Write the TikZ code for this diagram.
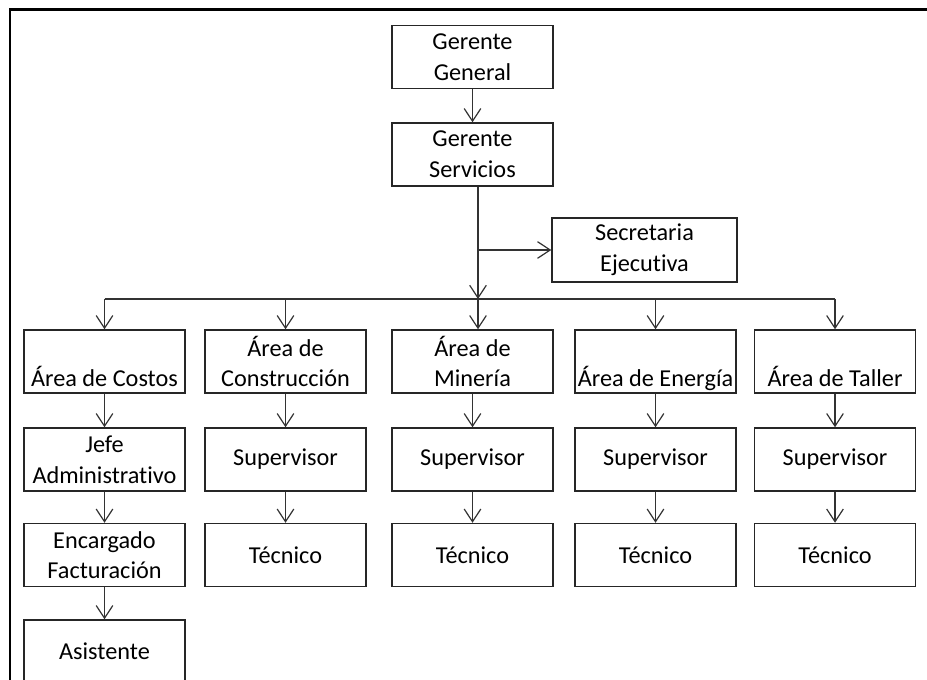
\documentclass[tikz,border=0pt]{standalone}
\usepackage{fontspec}
\setmainfont{Carlito}[Ligatures=NoCommon]
\usetikzlibrary{arrows.meta}
\begin{document}
\begin{tikzpicture}[x=0.75pt,y=-0.75pt,
  box/.style={draw=black!85,line width=1.1pt,minimum width=120.75pt,minimum height=47.25pt,
              inner sep=0pt,align=center,font=\fontsize{18.2pt}{23pt}\selectfont},
  arr/.style={draw=black!80,line width=0.9pt,-{Straight Barb[length=9.5pt,width=12.5pt,line width=0.9pt]}},
  ln/.style={draw=black!80,line width=0.9pt}]
\useasboundingbox (0,0) rectangle (927,680);
\draw[line width=2pt] (10,685) -- (10,9.5) -- (932,9.5);

% top
\node[box] (gg) at (472.5,57) {Gerente\\General};
\node[box] (gs) at (472.5,154.5) {Gerente\\Servicios};
\node[box,minimum width=138.75pt,minimum height=48pt] (sec) at (644.5,250) {Secretaria\\Ejecutiva};

% areas
\node[box] (a1) at (104.5,361.5) {\vphantom{Área de}\\Área de Costos};
\node[box] (a2) at (285.5,361.5) {Área de\\Construcción};
\node[box] (a3) at (472.5,361.5) {Área de\\Minería};
\node[box] (a4) at (655.5,361.5) {\vphantom{Área de}\\Área de Ener\smash{g}ía};
\node[box] (a5) at (835,361.5) {\vphantom{Área de}\\Área de Taller};

% second row
\node[box] (b1) at (104.5,459.5) {Jefe\\Administrativo};
\node[box] (b2) at (285.5,459.5) {Supervisor};
\node[box] (b3) at (472.5,459.5) {Supervisor};
\node[box] (b4) at (655.5,459.5) {Supervisor};
\node[box] (b5) at (835,459.5) {Supervisor};

% third row
\node[box] (c1) at (104.5,555) {Encargado\\Facturación};
\node[box] (c2) at (285.5,555) {Técnico};
\node[box] (c3) at (472.5,555) {Técnico};
\node[box] (c4) at (655.5,555) {Técnico};
\node[box] (c5) at (835,555) {Técnico};

% fourth row
\node[box] (d1) at (104.5,651.5) {Asistente};

% connectors
\coordinate (spine) at (478,299);
\draw[arr] (gg) -- (gs);
\draw[arr] (gs.south -| spine) -- (spine);
\draw[arr] (spine |- sec.west) -- (sec.west);
\draw[ln] (a1.north |- spine) -- (a5.north |- spine);
\draw[arr] (spine) -- (spine |- a3.north);
\foreach \n in {a1,a2,a4,a5}{\draw[arr] (\n.north |- spine) -- (\n.north);}
\foreach \i in {1,...,5}{
  \draw[arr] (a\i) -- (b\i);
  \draw[arr] (b\i) -- (c\i);
}
\draw[arr] (c1) -- (d1);
\end{tikzpicture}
\end{document}
